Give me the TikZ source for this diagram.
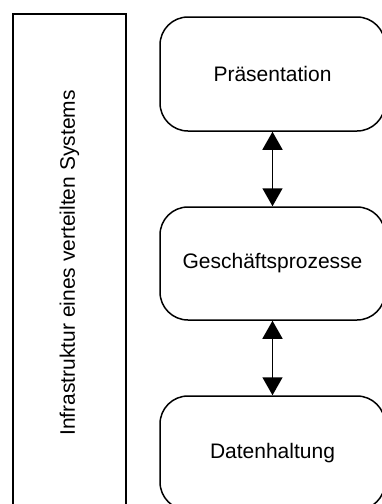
\documentclass[tikz,border=0pt]{standalone}
\usepackage{fontspec}
\setmainfont{Liberation Sans}
\usepackage{tikz}
\usetikzlibrary{arrows.meta,positioning}

\begin{document}
\begin{tikzpicture}[x=1pt, y=-1pt,
    layer/.style={draw, line width=1.5pt, rounded corners=28pt,
        minimum width=225pt, minimum height=114pt, inner sep=0pt,
        font=\fontsize{21}{24}\selectfont},
    infra/.style={draw, line width=1.5pt, rotate=90, inner sep=0pt,
        minimum width=498pt, minimum height=113pt,
        font=\fontsize{21}{24}\selectfont},
    biarrow/.style={line width=1.5pt,
        {Triangle[length=18pt,width=20pt]}-{Triangle[length=18pt,width=20pt]}}]
    \useasboundingbox (0,0) rectangle (382,504);
    \clip (0,0) rectangle (382,504);

    % Infrastructure
    \node[infra] (infra) at (69.5,263) {Infrastruktur eines verteilten Systems};

    % Layers
    \node[layer] (praes) at (272.5,74) {Präsentation};
    \node[layer, minimum height=113pt] (gesch) at (272.5,263.5) {Geschäftsprozesse};
    \node[layer] (daten) at (272.5,453) {Datenhaltung};

    % Connections
    \draw[biarrow] (praes) -- (gesch);
    \draw[biarrow] (gesch) -- (daten);
\end{tikzpicture}
\end{document}
